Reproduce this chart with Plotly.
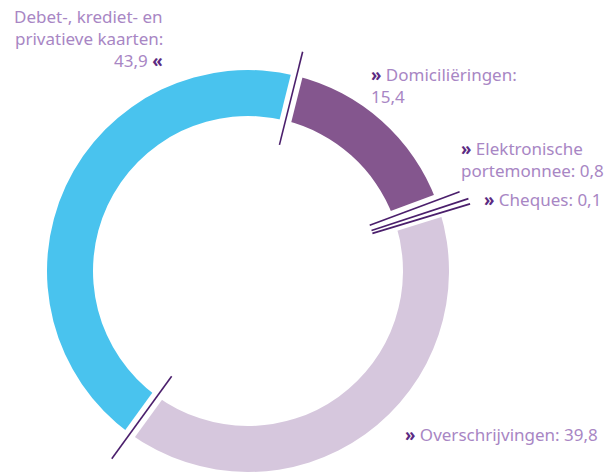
import math
import plotly.graph_objects as go

# shares of non-cash payments (%), clockwise from the top
categories = ["Domiciliëringen", "Elektronische portemonnee", "Cheques",
              "Overschrijvingen", "Debet-, krediet- en privatieve kaarten"]
values = [15.4, 0.8, 0.1, 39.8, 43.9]
label_lines = [
    ["» Domiciliëringen:", "{v}"],
    ["» Elektronische", "portemonnee: {v}"],
    ["» Cheques: {v}"],
    ["» Overschrijvingen: {v}"],
    ["Debet-, krediet- en", "privatieve kaarten:", "{v} «"],
]

W, H = 610, 472
CX, CY, R = 248, 271, 201   # donut centre / outer radius in px
ROTATION = 14
colors = ["#84568e", "#9a6aa3", "#b493bd", "#d6c7dd", "#49c3ee"]
text_col = "#a886c4"
chev_col = "#5b2a82"
line_col = "#4b1f6c"


def px(x, y):
    return x / W, 1 - y / H


def polar(r, ang):
    a = math.radians(ang)
    return CX + r * math.sin(a), CY - r * math.cos(a)


fig = go.Figure(go.Pie(
    labels=categories,
    values=values,
    sort=False,
    direction="clockwise",
    rotation=ROTATION,
    hole=155 / R,
    marker=dict(colors=colors, line=dict(width=0)),
    textinfo="none",
    showlegend=False,
    domain=dict(x=[(CX - R) / W, (CX + R) / W], y=[0, 2 * R / H]),
))

# slice boundaries -> white gap + thin dark separator
total = sum(values)
bounds = [ROTATION]
acc = 0
for v in values[:-1]:
    acc += v
    bounds.append(ROTATION + acc / total * 360)

shapes = []
for ang in bounds:
    x0, y0 = px(*polar(146, ang))
    x1, y1 = px(*polar(210, ang))
    shapes.append(dict(type="line", xref="paper", yref="paper", x0=x0, y0=y0, x1=x1, y1=y1,
                       line=dict(color="white", width=12), layer="above"))
for i, ang in enumerate(bounds):
    # spread the two near-identical cheque boundaries a touch so both show
    if i == 2:
        ang -= 0.5
    if i == 3:
        ang += 0.5
    x0, y0 = px(*polar(130, ang))
    x1, y1 = px(*polar(226 if i < 2 else 232, ang))
    shapes.append(dict(type="line", xref="paper", yref="paper", x0=x0, y0=y0, x1=x1, y1=y1,
                       line=dict(color=line_col, width=1.6), layer="above"))

# label placement (px): anchor x, first line centre y, anchor side
label_pos = [(370, 74, "left"), (460, 148, "left"), (483, 199, "left"),
             (404, 434, "left"), (164, 16, "right")]
line_gap = 22.5


def styled(s):
    s = s.replace("»", f"<span style='color:{chev_col}'><b>»</b></span>")
    s = s.replace("«", f"<span style='color:{chev_col}'><b>«</b></span>")
    return s


annotations = []
for lines, v, (lx, ly, side) in zip(label_lines, values, label_pos):
    vtxt = f"{v:.1f}".replace(".", ",")
    for i, ln in enumerate(lines):
        ax, ay = px(lx, ly + i * line_gap)
        annotations.append(dict(
            text=styled(ln.format(v=vtxt)), x=ax, y=ay, xref="paper", yref="paper",
            xanchor=side, yanchor="middle", showarrow=False, align=side,
            borderpad=0,
            font=dict(family="Noto Sans", size=17, color=text_col),
        ))

fig.update_layout(
    width=W, height=H,
    margin=dict(l=0, r=0, t=0, b=0),
    paper_bgcolor="white",
    plot_bgcolor="white",
    shapes=shapes,
    annotations=annotations,
)

# drop the browser's default body margin so the figure fills the window
fig.write_html("out.html", config={"displayModeBar": False},
               post_script="document.body.style.margin='0';")
